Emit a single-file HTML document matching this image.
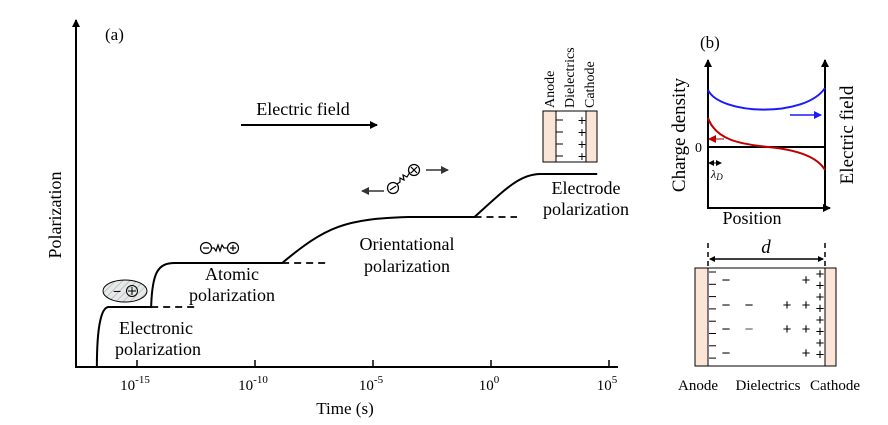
<!DOCTYPE html>
<html><head><meta charset="utf-8">
<style>
html,body{margin:0;padding:0;background:#fff;}
svg{display:block;font-family:"Liberation Serif",serif;}
</style></head>
<body>
<svg id="fig" width="888" height="425" viewBox="0 0 888 425">
<defs>
<marker id="ah" markerWidth="8" markerHeight="8" refX="7" refY="4" orient="auto" markerUnits="userSpaceOnUse"><path d="M0,0 L8,4 L0,8 z" fill="#000"/></marker>
<marker id="ahb" markerWidth="8" markerHeight="8" refX="7" refY="4" orient="auto" markerUnits="userSpaceOnUse"><path d="M0,0 L8,4 L0,8 z" fill="#1a1aff"/></marker>
<marker id="ahr" markerWidth="8" markerHeight="8" refX="7" refY="4" orient="auto" markerUnits="userSpaceOnUse"><path d="M0,0 L8,4 L0,8 z" fill="#c00000"/></marker>
<marker id="ahg" markerWidth="8" markerHeight="8" refX="7" refY="4" orient="auto" markerUnits="userSpaceOnUse"><path d="M0,0 L8,4 L0,8 z" fill="#333"/></marker>
<marker id="ahs" markerWidth="6" markerHeight="6" refX="5" refY="3" orient="auto-start-reverse" markerUnits="userSpaceOnUse"><path d="M0,0 L6,3 L0,6 z" fill="#000"/></marker>
<pattern id="hatch" width="5" height="5" patternUnits="userSpaceOnUse" patternTransform="rotate(45)"><rect width="5" height="5" fill="#e8e8e8"/><line x1="0" y1="0" x2="0" y2="5" stroke="#8aa" stroke-width="1"/></pattern>
</defs>

<g>
<text x="105" y="40" font-size="17">(a)</text>
<line x1="76" y1="367" x2="76" y2="20" stroke="#000" stroke-width="2" marker-end="url(#ah)"/>
<line x1="75" y1="367" x2="618" y2="367" stroke="#000" stroke-width="2"/>
<text transform="translate(61,215) rotate(-90)" text-anchor="middle" font-size="18">Polarization</text>
<text x="345" y="414" text-anchor="middle" font-size="17">Time (s)</text>
<g id="ticks"></g>
<path id="curve" fill="none" stroke="#000" stroke-width="2"/>
<g id="dashes"></g>

<text x="156" y="334" text-anchor="middle" font-size="18">Electronic</text>
<text x="158" y="355" text-anchor="middle" font-size="18">polarization</text>
<text x="232" y="280" text-anchor="middle" font-size="18">Atomic</text>
<text x="232" y="301" text-anchor="middle" font-size="18">polarization</text>
<text x="407" y="250" text-anchor="middle" font-size="18">Orientational</text>
<text x="407" y="272" text-anchor="middle" font-size="18">polarization</text>
<text x="586" y="194" text-anchor="middle" font-size="18">Electrode</text>
<text x="586" y="215" text-anchor="middle" font-size="18">polarization</text>

<text x="303" y="115" text-anchor="middle" font-size="18">Electric field</text>
<line x1="241" y1="125" x2="377" y2="125" stroke="#000" stroke-width="2" marker-end="url(#ah)"/>

<g>
<ellipse cx="125" cy="291" rx="22" ry="11" fill="url(#hatch)" stroke="#000" stroke-width="1"/>
<text x="113" y="296" font-size="14" font-family="Liberation Sans,sans-serif">−</text>
<circle cx="132" cy="291" r="5.5" fill="none" stroke="#000"/><line x1="128" y1="291" x2="136" y2="291" stroke="#000"/><line x1="132" y1="287" x2="132" y2="295" stroke="#000"/>
</g>
<g stroke="#000" fill="none" stroke-width="1.2">
<circle cx="206" cy="248" r="5.5"/><line x1="203" y1="248" x2="209" y2="248"/>
<path d="M211,248 L214,248 L216,251 L218,245 L220,251 L222,245 L224,248 L228,248"/>
<circle cx="233" cy="248" r="5.5"/><line x1="230" y1="248" x2="236" y2="248"/><line x1="233" y1="245" x2="233" y2="251"/>
</g>
<g stroke="#000" fill="none" stroke-width="1.2">
<circle cx="393" cy="188" r="5.5"/><line x1="390" y1="190" x2="396" y2="186"/>
<path d="M397,184 L400,182 L400,178 L404,180 L403,175 L407,177 L410,172"/>
<circle cx="414" cy="170" r="5.5"/><line x1="411" y1="167" x2="417" y2="173"/><line x1="417" y1="167" x2="411" y2="173"/>
<line x1="384" y1="191" x2="362" y2="191" stroke="#333" stroke-width="1.5" marker-end="url(#ahg)"/>
<line x1="426" y1="170" x2="448" y2="170" stroke="#333" stroke-width="1.5" marker-end="url(#ahg)"/>
</g>
<g>
<rect x="543" y="111" width="13" height="51" fill="#fbe5d6" stroke="#000"/>
<rect x="586" y="111" width="11" height="51" fill="#fbe5d6" stroke="#000"/>
<rect x="556" y="111" width="30" height="51" fill="#fff" stroke="#000"/>
<g stroke="#000" stroke-width="1">
<line x1="556" y1="120" x2="563" y2="120"/><line x1="556" y1="132" x2="563" y2="132"/><line x1="556" y1="144" x2="563" y2="144"/><line x1="556" y1="156" x2="563" y2="156"/>
</g>
<g font-size="14" font-family="Liberation Sans,sans-serif" text-anchor="middle">
<text x="582" y="125">+</text><text x="582" y="137">+</text><text x="582" y="149">+</text><text x="582" y="161">+</text>
</g>
<text transform="translate(554,108) rotate(-90)" font-size="14">Anode</text>
<text transform="translate(574,108) rotate(-90)" font-size="14">Dielectrics</text>
<text transform="translate(594,108) rotate(-90)" font-size="14">Cathode</text>
</g>
</g>

<g>
<text x="700" y="48" font-size="17">(b)</text>
<line x1="708" y1="208" x2="708" y2="60" stroke="#000" stroke-width="2" marker-end="url(#ah)"/>
<line x1="825" y1="208" x2="825" y2="60" stroke="#000" stroke-width="2" marker-end="url(#ah)"/>
<line x1="707" y1="208" x2="830" y2="208" stroke="#000" stroke-width="2" marker-end="url(#ah)"/>
<line x1="708" y1="147" x2="825" y2="147" stroke="#000" stroke-width="2"/>
<text x="702" y="152" text-anchor="end" font-size="14">0</text>
<text transform="translate(685,135) rotate(-90)" text-anchor="middle" font-size="19">Charge density</text>
<text transform="translate(853,135) rotate(-90)" text-anchor="middle" font-size="19">Electric field</text>
<text x="752" y="224" text-anchor="middle" font-size="18">Position</text>
<path d="M708,90 C720,115 805,118 825,88" fill="none" stroke="#1a1aff" stroke-width="2"/>
<line x1="790" y1="115" x2="821" y2="115" stroke="#1a1aff" stroke-width="1.5" marker-end="url(#ahb)"/>
<path d="M708,118 C716,140 740,144 768,147 C800,150 818,158 825,170" fill="none" stroke="#c00000" stroke-width="2"/>
<line x1="724" y1="139" x2="709" y2="139" stroke="#c0504d" stroke-width="1.5" marker-end="url(#ahr)"/>
<line x1="709" y1="163" x2="721" y2="163" stroke="#000" stroke-width="1" marker-start="url(#ahs)" marker-end="url(#ahs)"/>
<text x="711" y="178" font-size="12" font-style="italic">λ<tspan font-size="9" dy="2">D</tspan></text>

<line x1="708" y1="243" x2="708" y2="266" stroke="#000" stroke-width="1.5" stroke-dasharray="5,4"/>
<line x1="825" y1="243" x2="825" y2="266" stroke="#000" stroke-width="1.5" stroke-dasharray="5,4"/>
<line x1="710" y1="259" x2="823" y2="259" stroke="#000" stroke-width="1.5" marker-start="url(#ahs)" marker-end="url(#ahs)"/>
<text x="766" y="253" text-anchor="middle" font-size="19" font-style="italic">d</text>
<rect x="695" y="268" width="13" height="98" fill="#fbe5d6" stroke="#000"/>
<rect x="825" y="268" width="11" height="98" fill="#fbe5d6" stroke="#000"/>
<rect x="708" y="268" width="117" height="98" fill="#fff" stroke="#000"/>
<g id="charges" font-family="Liberation Sans,sans-serif" font-size="15" text-anchor="middle"></g>
<text x="698" y="390" text-anchor="middle" font-size="15">Anode</text>
<text x="768" y="390" text-anchor="middle" font-size="15">Dielectrics</text>
<text x="835" y="390" text-anchor="middle" font-size="15">Cathode</text>
</g>
</svg>
<script>
const tickExponents = [-15, -10, -5, 0, 5];
const levels = [0, 60, 104, 150, 193];
const riseStart = [-16.7, -14.4, -8.85, -0.7];
const riseEnd = [-16.2, -13.4, -3.5, 2.1];
const plateauEnd = [-14.4, -8.85, -0.7, 4.5];
const dashLen = [2.0, 2.0, 1.8];

const NS = "http://www.w3.org/2000/svg";
const xOf = l => 491 + 23.6 * l;
const yOf = v => 367 - v;

const tg = document.getElementById('ticks');
tickExponents.forEach(e => {
  const x = xOf(e);
  const ln = document.createElementNS(NS, 'line');
  
  
  ln.setAttribute('x1', x); ln.setAttribute('x2', x);
  ln.setAttribute('y1', 367); ln.setAttribute('y2', 360);
  ln.setAttribute('stroke', '#000'); ln.setAttribute('stroke-width', '1.5');
  tg.appendChild(ln);
  const t = document.createElementNS(NS, 'text');
  
  
  t.setAttribute('x', x - 2); t.setAttribute('y', 390);
  t.setAttribute('text-anchor', 'middle'); t.setAttribute('font-size', '15');
  t.innerHTML = '10<tspan dy="-7" font-size="11">' + (e < 0 ? '-' + (-e) : e) + '</tspan>';
  tg.appendChild(t);
});

let d = 'M' + xOf(riseStart[0]) + ',' + yOf(levels[0]);
for (let i = 0; i < riseStart.length; i++) {
  const x0 = xOf(riseStart[i]), x1 = xOf(riseEnd[i]);
  const y0 = yOf(levels[i]), y1 = yOf(levels[i + 1]);
  const dx = x1 - x0;
  if (i === 0) d += ' C' + (x0) + ',' + (y0 - 0.6 * (y0 - y1)) + ' ' + (x0 + 0.3 * dx) + ',' + y1 + ' ' + x1 + ',' + y1;
  else if (i === 1) d += ' L' + x0 + ',' + (y0 - 1) + ' C' + (x0 + 0.05 * dx) + ',' + (y0 - 0.8 * (y0 - y1)) + ' ' + (x0 + 0.3 * dx) + ',' + y1 + ' ' + x1 + ',' + y1;
  else if (i === 2) d += ' L' + x0 + ',' + y0 + ' C' + (x0 + 0.35 * dx) + ',' + (y0 - 0.8 * (y0 - y1)) + ' ' + (x0 + 0.5 * dx) + ',' + (y1 + 2) + ' ' + x1 + ',' + y1;
  else d += ' L' + x0 + ',' + y0 + ' C' + (x0 + 0.5 * dx) + ',' + (y0 - 0.7 * (y0 - y1)) + ' ' + (x0 + 0.7 * dx) + ',' + y1 + ' ' + x1 + ',' + y1;
  d += ' L' + xOf(plateauEnd[i]) + ',' + y1;
}
document.getElementById('curve').setAttribute('d', d);

const dg = document.getElementById('dashes');
dashLen.forEach((L, i) => {
  const ln = document.createElementNS(NS, 'line');
  
  
  ln.setAttribute('x1', xOf(plateauEnd[i])); ln.setAttribute('x2', xOf(plateauEnd[i] + L));
  ln.setAttribute('y1', yOf(levels[i + 1])); ln.setAttribute('y2', yOf(levels[i + 1]));
  ln.setAttribute('stroke', '#000'); ln.setAttribute('stroke-width', '1.8');
  ln.setAttribute('stroke-dasharray', '7,5');
  dg.appendChild(ln);
});

const cg = document.getElementById('charges');
function addText(x, y, s, c) {
  const t = document.createElementNS(NS, 'text');
  
  
  t.setAttribute('x', x); t.setAttribute('y', y);
  if (c) t.setAttribute('fill', c);
  t.textContent = s; cg.appendChild(t);
}
for (let i = 0; i < 8; i++) {
  const ln = document.createElementNS(NS, 'line');
  ln.setAttribute('x1', 709); ln.setAttribute('x2', 716);
  ln.setAttribute('y1', 272 + i * 12.3); ln.setAttribute('y2', 272 + i * 12.3);
  ln.setAttribute('stroke', '#000');
  cg.appendChild(ln);
  addText(820, 279 + i * 11.5, '+');
}
[[726, 285], [726, 310], [726, 334], [726, 358], [749, 310], [749, 334]].forEach(p => addText(p[0], p[1], '−', p[0] > 740 && p[1] > 320 ? '#555' : null));
[[806, 285], [806, 310], [806, 334], [806, 358], [787, 310], [787, 334]].forEach(p => addText(p[0], p[1], '+'));
</script>
</body></html>
